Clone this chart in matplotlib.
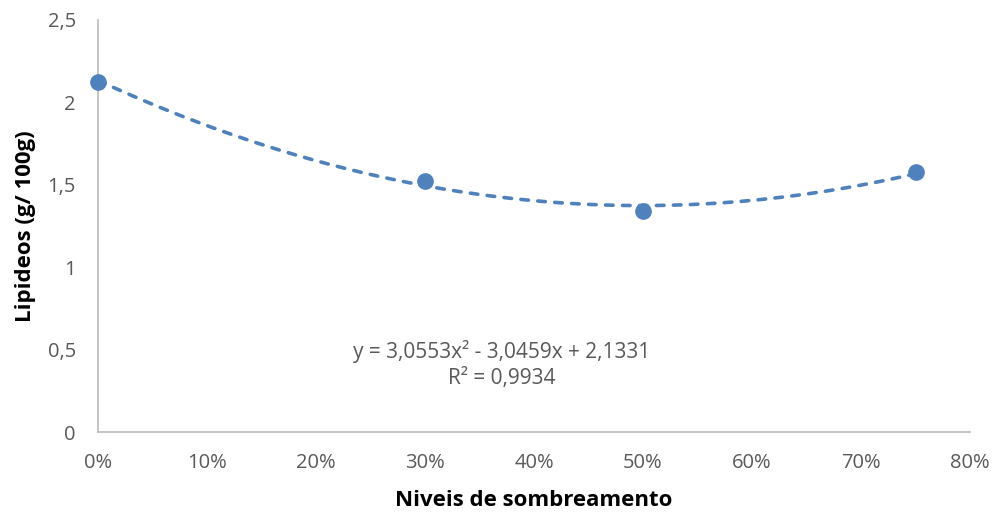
import numpy as np
from matplotlib import pyplot as plt
from matplotlib.ticker import FuncFormatter

plt.rcParams['font.family'] = ['Open Sans', 'DejaVu Sans']

# Lipid content by shading level
shade = [0.0, 0.30, 0.50, 0.75]
lipids = [2.124, 1.523, 1.341, 1.578]

# quadratic trend coefficients (a x^2 + b x + c)
coef_a = 3.0553
coef_b = -3.0459
coef_c = 2.1331
r2 = 0.9934

x_ticks = [0, 0.1, 0.2, 0.3, 0.4, 0.5, 0.6, 0.7, 0.8]
y_ticks = [0, 0.5, 1, 1.5, 2, 2.5]

blue = '#4F81BD'
grey = '#595959'

fig = plt.figure(figsize=(9.94, 5.12), dpi=100)
ax = fig.add_axes([0.0986, 0.15625, 0.8773, 0.8047])

xs = np.linspace(shade[0], shade[-1], 200)
ys = coef_a * xs**2 + coef_b * xs + coef_c
ax.plot(xs, ys, color=blue, linewidth=2.6, linestyle=(0, (2.1, 2.6)),
        dash_capstyle='round', zorder=2)
ax.plot(shade, lipids, 'o', color=blue, markersize=11, zorder=3, clip_on=False)

ax.set_xlim(0, 0.8)
ax.set_ylim(0, 2.5)
ax.set_xticks(x_ticks)
ax.set_yticks(y_ticks)
ax.xaxis.set_major_formatter(FuncFormatter(lambda v, p: f'{v*100:.0f}%'))
ax.yaxis.set_major_formatter(
    FuncFormatter(lambda v, p: f'{v:g}'.replace('.', ',')))

for side in ['top', 'right']:
    ax.spines[side].set_visible(False)
for side in ['left', 'bottom']:
    ax.spines[side].set_color('#BFBFBF')
    ax.spines[side].set_linewidth(1.3)

ax.tick_params(axis='both', length=0, labelsize=14.5, labelcolor=grey)
ax.tick_params(axis='x', pad=15)
ax.tick_params(axis='y', pad=16)

ax.set_xlabel('Niveis de sombreamento', fontsize=16, fontweight='bold',
              color='black', labelpad=12)
ax.set_ylabel('Lipideos (g/ 100g)', fontsize=16, fontweight='bold',
              color='black', labelpad=8)

eq = (f'y = {coef_a:.4f}x² - {-coef_b:.4f}x + {coef_c:.4f}'.replace('.', ',')
      + '\n' + f'R² = {r2:.4f}'.replace('.', ','))
ax.text(0.37, 0.41, eq, ha='center', va='center', fontsize=15, color=grey,
        linespacing=1.3)

fig.savefig('out.png', dpi=100)
